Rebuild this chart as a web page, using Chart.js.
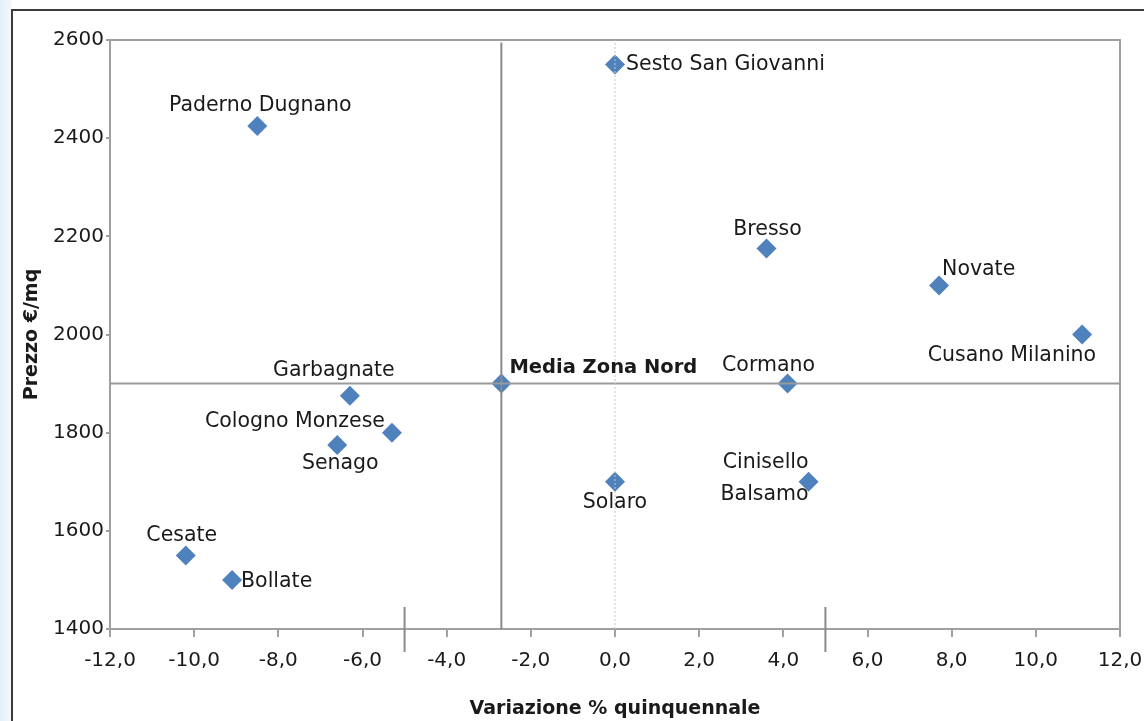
<!DOCTYPE html>
<html>
<head>
<meta charset="utf-8">
<script src="https://cdn.jsdelivr.net/npm/chart.js@4/dist/chart.umd.min.js"></script>
<style>
  body { margin: 0; background: #fff; }
  #wrap { position: relative; width: 1144px; height: 721px; overflow: hidden;
          background: linear-gradient(90deg, #e3eef8 0px, #f4f8fc 11px, #fff 12px); }
  #frame { position: absolute; left: 11px; top: 9px; right: -4px; bottom: -4px;
           border-left: 2px solid #3c3c3c; border-top: 2px solid #3c3c3c; background: #fff; }
  canvas { position: absolute; left: 0; top: 0; }
</style>
</head>
<body>
<div id="wrap">
  <div id="frame"></div>
  <canvas id="scatter" width="1144" height="721"></canvas>
</div>
<script>
// Comuni della zona nord: variazione % quinquennale e prezzo medio €/mq
const comuni = ['Sesto San Giovanni', 'Paderno Dugnano', 'Bresso', 'Novate', 'Cusano Milanino',
    'Cormano', 'Media Zona Nord', 'Garbagnate', 'Cologno Monzese', 'Senago', 'Solaro',
    'Cinisello Balsamo', 'Cesate', 'Bollate'];
const variazione = [0, -8.5, 3.6, 7.7, 11.1, 4.1, -2.7, -6.3, -5.3, -6.6, 0, 4.6, -10.2, -9.1];
const prezzo = [2550, 2425, 2175, 2100, 2000, 1900, 1900, 1875, 1800, 1775, 1700, 1700, 1550, 1500];

// linee di riferimento (media zona e quadranti)
const mediaX = -2.7;
const mediaY = 1900;
const quadrantiX = [-5, 5];

const xMin = -12, xMax = 12, xStep = 2;
const yMin = 1400, yMax = 2600, yStep = 200;

// where each label sits relative to its point: [align, dx, dy]
const labelPlace = [
    ['left', 11, 0], ['center', 3, -20], ['center', 1, -19], ['left', 3, -16], ['right', 14, 21],
    ['center', -19, -18], ['left', 8, -16], ['center', -16, -25], ['right', -7, -11], ['center', 3, 19],
    ['center', 0, 21], ['right', 0, -19], ['center', -4, -20], ['left', 9, 2]
];

const FONT = '"DejaVu Sans", sans-serif';

const points = comuni.map((c, i) => ({ x: variazione[i], y: prezzo[i] }));

const labelPlugin = {
    id: 'pointLabels',
    afterDatasetsDraw(chart) {
        const ctx = chart.ctx;
        const meta = chart.getDatasetMeta(chart.data.datasets.length - 1);
        ctx.save();
        ctx.fillStyle = '#1a1a1a';
        ctx.textBaseline = 'middle';
        meta.data.forEach((pt, i) => {
            const [align, dx, dy] = labelPlace[i];
            const bold = comuni[i] === 'Media Zona Nord';
            ctx.font = (bold ? 'bold 19.5px ' : '20.5px ') + FONT;
            ctx.textAlign = align;
            let lines = [comuni[i]];
            if (comuni[i] === 'Cinisello Balsamo') lines = ['Cinisello', 'Balsamo'];
            lines.forEach((t, k) => {
                ctx.fillText(t, pt.x + dx, pt.y + dy + k * 32);
            });
        });
        ctx.restore();
    }
};

const framePlugin = {
    id: 'plotFrame',
    beforeDatasetsDraw(chart) {
        const { ctx, chartArea: a } = chart;
        ctx.save();
        ctx.strokeStyle = '#a0a0a0';
        ctx.lineWidth = 2;
        ctx.strokeRect(a.left, a.top, a.right - a.left, a.bottom - a.top);
        ctx.restore();
    }
};

const refLine = (data, color, extra) => Object.assign({
    data, showLine: true, pointRadius: 0, pointHoverRadius: 0,
    borderColor: color, borderWidth: 2
}, extra || {});

new Chart(document.getElementById('scatter'), {
    type: 'scatter',
    data: {
        datasets: [
            refLine([{ x: 0, y: yMin }, { x: 0, y: yMax }], '#c4c4c4', { borderWidth: 1, borderDash: [2, 2] }),
            refLine([{ x: xMin, y: mediaY }, { x: xMax, y: mediaY }], '#9a9a9a'),
            refLine([{ x: mediaX, y: 2595 }, { x: mediaX, y: yMin }], '#8a8a8a'),
            refLine([{ x: quadrantiX[0], y: 1445 }, { x: quadrantiX[0], y: 1353 }], '#8a8a8a', { clip: false }),
            refLine([{ x: quadrantiX[1], y: 1445 }, { x: quadrantiX[1], y: 1353 }], '#8a8a8a', { clip: false }),
            {
                data: points,
                pointStyle: 'rectRot',
                pointRadius: 10,
                pointHoverRadius: 10,
                backgroundColor: '#4f81bd',
                borderColor: '#4f81bd',
                borderWidth: 0
            }
        ]
    },
    options: {
        responsive: false,
        animation: false,
        layout: { padding: { left: 0, top: 40, right: 24, bottom: 0 } },
        plugins: { legend: { display: false }, tooltip: { enabled: false } },
        scales: {
            x: {
                type: 'linear', min: xMin, max: xMax,
                afterFit: (s) => { s.height = 92; s.paddingLeft = 0; s.paddingRight = 0; },
                border: { display: true, color: '#a0a0a0', width: 2 },
                grid: { drawOnChartArea: false, drawTicks: true, tickLength: 8, color: '#a0a0a0', lineWidth: 2 },
                ticks: {
                    stepSize: xStep, padding: 12, color: '#1a1a1a',
                    font: { family: FONT, size: 20 },
                    callback: (v) => v.toFixed(1).replace('.', ',')
                },
                title: {
                    display: true, text: 'Variazione % quinquennale', color: '#1a1a1a',
                    font: { family: FONT, size: 19, weight: 'bold' }, padding: { bottom: 1 }
                }
            },
            y: {
                type: 'linear', min: yMin, max: yMax,
                afterFit: (s) => { s.width = 110; s.paddingTop = 0; s.paddingBottom = 0; },
                border: { display: true, color: '#a0a0a0', width: 2 },
                grid: { drawOnChartArea: false, drawTicks: true, tickLength: 4, color: '#a0a0a0', lineWidth: 2 },
                ticks: {
                    stepSize: yStep, padding: 2, color: '#1a1a1a',
                    font: { family: FONT, size: 20 },
                    callback: (v) => String(v)
                },
                title: {
                    display: true, text: 'Prezzo €/mq', color: '#1a1a1a',
                    font: { family: FONT, size: 19, weight: 'bold' }, padding: { top: 21 }
                }
            }
        }
    },
    plugins: [framePlugin, labelPlugin]
});
</script>
</body>
</html>
